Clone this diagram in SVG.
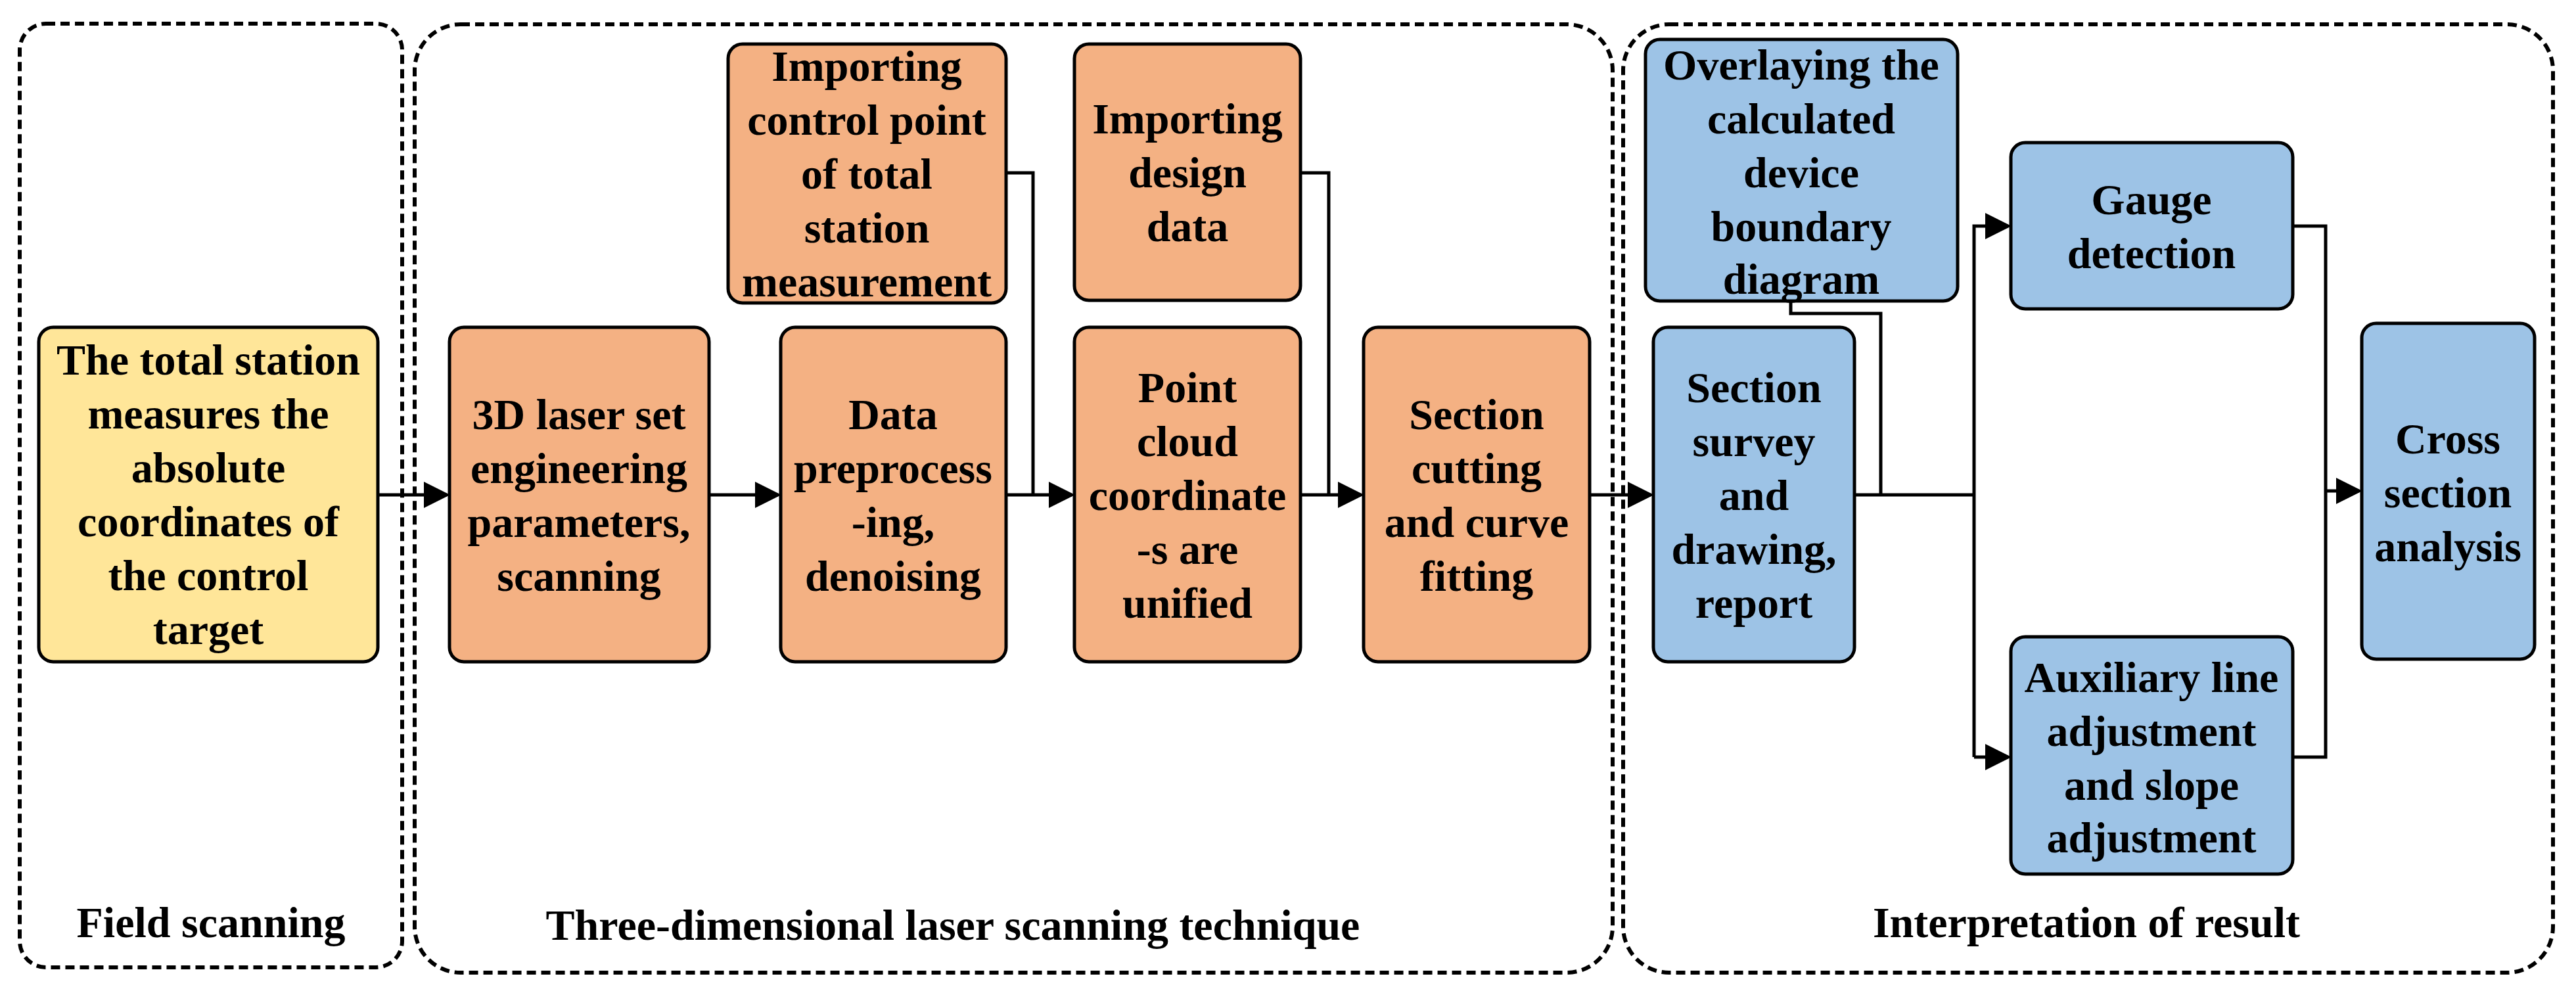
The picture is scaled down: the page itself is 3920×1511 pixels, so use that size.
<svg xmlns="http://www.w3.org/2000/svg" width="3920" height="1511" viewBox="0 0 3920 1511">
<style>
.grp{fill:none;stroke:#000;stroke-width:6;stroke-dasharray:14 8}
.n rect{stroke:#000;stroke-width:5}
.y{fill:#FFE699}.o{fill:#F4B183}.b{fill:#9DC3E6}
text{font-family:"Liberation Serif","Times New Roman",serif;font-weight:bold;font-size:66px;text-anchor:middle;dominant-baseline:central;fill:#000}
.c{fill:none;stroke:#000;stroke-width:5}
</style>
<defs><marker id="a" markerWidth="8" markerHeight="8" refX="7" refY="4" orient="auto" markerUnits="strokeWidth"><path d="M0,0L8,4L0,8z" fill="#000"/></marker></defs>
<g id="groups">
<rect class="grp" x="30" y="36" width="582" height="1436" rx="40"/>
<rect class="grp" x="631" y="37" width="1823" height="1443" rx="70"/>
<rect class="grp" x="2470" y="37" width="1415" height="1443" rx="70"/>
<text x="321" y="1403">Field scanning</text>
<text x="1450" y="1407">Three-dimensional laser scanning technique</text>
<text x="3175" y="1403">Interpretation of result</text>
</g>
<g id="connectors">
<path class="c" d="M575,753H680" marker-end="url(#a)"/>
<path class="c" d="M1079,753H1184" marker-end="url(#a)"/>
<path class="c" d="M1531,753H1631" marker-end="url(#a)"/>
<path class="c" d="M1531,263H1572V753"/>
<path class="c" d="M1979,263H2022V753"/>
<path class="c" d="M1979,753H2071" marker-end="url(#a)"/>
<path class="c" d="M2419,753H2512" marker-end="url(#a)"/>
<path class="c" d="M2822,753H3004"/>
<path class="c" d="M2725,458V477H2862V753"/>
<path class="c" d="M3004,1152V344H3056" marker-end="url(#a)"/>
<path class="c" d="M3004,1152H3056" marker-end="url(#a)"/>
<path class="c" d="M3489,344H3539V1152H3489"/>
<path class="c" d="M3539,747H3590" marker-end="url(#a)"/>
</g>
<g id="n1" class="n"><rect class="y" x="59" y="498" width="516" height="509" rx="22"/>
<text x="317" y="547">The total station</text><text x="317" y="629">measures the</text><text x="317" y="711">absolute</text><text x="317" y="793">coordinates of</text><text x="317" y="875">the control</text><text x="317" y="957">target</text></g>
<g id="n2" class="n"><rect class="o" x="684" y="498" width="395" height="509" rx="22"/>
<text x="881" y="630">3D laser set</text><text x="881" y="712">engineering</text><text x="881" y="794">parameters,</text><text x="881" y="876">scanning</text></g>
<g id="n3" class="n"><rect class="o" x="1188" y="498" width="343" height="509" rx="22"/>
<text x="1359" y="630">Data</text><text x="1359" y="712">preprocess</text><text x="1359" y="794">-ing,</text><text x="1359" y="876">denoising</text></g>
<g id="n4" class="n"><rect class="o" x="1108" y="67" width="423" height="394" rx="22"/>
<text x="1319" y="100">Importing</text><text x="1319" y="182">control point</text><text x="1319" y="264">of total</text><text x="1319" y="346">station</text><text x="1319" y="428">measurement</text></g>
<g id="n5" class="n"><rect class="o" x="1635" y="67" width="344" height="390" rx="22"/>
<text x="1807" y="180">Importing</text><text x="1807" y="262">design</text><text x="1807" y="344">data</text></g>
<g id="n6" class="n"><rect class="o" x="1635" y="498" width="344" height="509" rx="22"/>
<text x="1807" y="589">Point</text><text x="1807" y="671">cloud</text><text x="1807" y="753">coordinate</text><text x="1807" y="835">-s are</text><text x="1807" y="917">unified</text></g>
<g id="n7" class="n"><rect class="o" x="2075" y="498" width="344" height="509" rx="22"/>
<text x="2247" y="630">Section</text><text x="2247" y="712">cutting</text><text x="2247" y="794">and curve</text><text x="2247" y="876">fitting</text></g>
<g id="n8" class="n"><rect class="b" x="2504" y="60" width="475" height="398" rx="22"/>
<text x="2741" y="98">Overlaying  the</text><text x="2741" y="180">calculated</text><text x="2741" y="262">device</text><text x="2741" y="344">boundary</text><text x="2741" y="424">diagram</text></g>
<g id="n9" class="n"><rect class="b" x="2516" y="498" width="306" height="509" rx="22"/>
<text x="2669" y="589">Section</text><text x="2669" y="671">survey</text><text x="2669" y="753">and</text><text x="2669" y="835">drawing,</text><text x="2669" y="917">report</text></g>
<g id="n10" class="n"><rect class="b" x="3060" y="217" width="429" height="253" rx="22"/>
<text x="3274" y="303">Gauge</text><text x="3274" y="385">detection</text></g>
<g id="n11" class="n"><rect class="b" x="3060" y="969" width="429" height="361" rx="22"/>
<text x="3274" y="1030">Auxiliary line</text><text x="3274" y="1112">adjustment</text><text x="3274" y="1194">and slope</text><text x="3274" y="1274">adjustment</text></g>
<g id="n12" class="n"><rect class="b" x="3594" y="492" width="263" height="511" rx="22"/>
<text x="3725" y="667">Cross</text><text x="3725" y="749">section</text><text x="3725" y="831">analysis</text></g>
</svg>
